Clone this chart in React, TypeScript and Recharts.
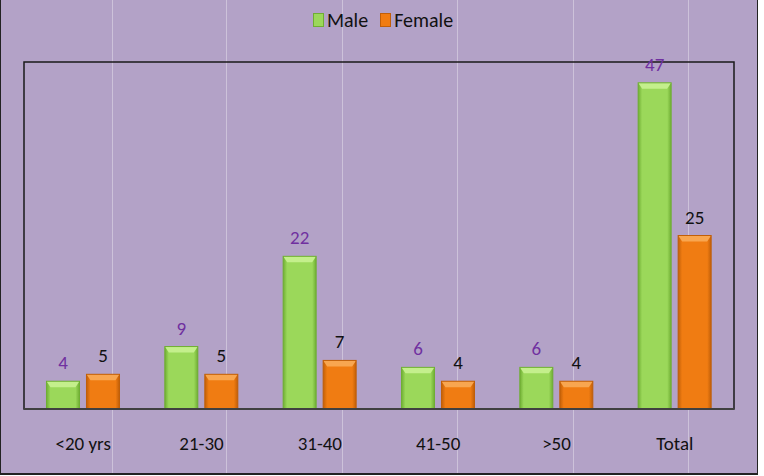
import React from "react"
import { BarChart, Bar, XAxis, YAxis, LabelList, ReferenceArea } from "recharts"

const categories = ["<20 yrs", "21-30", "31-40", "41-50", ">50", "Total"]
const male = [4, 9, 22, 6, 6, 47]
const female = [5, 5, 7, 4, 4, 25]

const data = categories.map((c, i) => ({ group: c, Male: male[i], Female: female[i] }))

const FONT = "Carlito, Calibri, Lato, 'Open Sans', sans-serif"
const BG = "#b3a2c7"

const palette = {
  Male: { main: "#9bd85a", light: "#c4ef8c", dark: "#6fae33", label: "#7030a0" },
  Female: { main: "#f07c12", light: "#f8a650", dark: "#c15f08", label: "#111111" },
}

function makeBevel(key: "Male" | "Female") {
  const c = palette[key]
  return (props: any) => {
    const { x, y, width, height } = props
    if (!height || height <= 0) return null
    const b = Math.min(6, height / 2)
    return (
      <g>
        <line x1={x - 5} x2={x + width + 5} y1={y + height} y2={y + height} stroke="#4a4a4a" strokeWidth={2} opacity={0.7} />
        <rect x={x} y={y} width={width} height={height} fill={`url(#grad${key})`} />
        <polygon
          points={`${x},${y} ${x + width},${y} ${x + width - 4},${y + b} ${x + 4},${y + b}`}
          fill={c.light}
        />
        <rect x={x} y={y} width={width} height={height} fill="none" stroke={c.dark} strokeWidth={1} />
      </g>
    )
  }
}

const LegendBox = () => (
  <div
    style={{
      position: "absolute",
      left: 0,
      top: 8,
      width: 764,
      display: "flex",
      justifyContent: "center",
      gap: 12,
      fontFamily: FONT,
      fontSize: 20,
      color: "#111",
    }}
  >
    {(["Male", "Female"] as const).map((k) => (
      <span key={k} style={{ display: "flex", alignItems: "center", gap: 3 }}>
        <span
          style={{
            display: "inline-block",
            width: 11,
            height: 14,
            background: palette[k].main,
            border: `1px solid ${palette[k].dark}`,
            boxSizing: "border-box",
          }}
        />
        {k}
      </span>
    ))}
  </div>
)

const streaks = [111, 225, 341, 456, 572, 687]

export default function App() {
  return (
    <div
      style={{
        position: "absolute",
        left: 0,
        top: 0,
        width: 764,
        height: 476,
        background: "#ffffff",
      }}
    >
      <div
        style={{
          position: "absolute",
          left: 0,
          top: 0,
          width: 756,
          height: 473,
          background: BG,
          borderLeft: "1px solid #222",
          borderRight: "1px solid #222",
          borderBottom: "2px solid #222",
          overflow: "hidden",
        }}
      >
        {streaks.map((s) => (
          <div
            key={s}
            style={{ position: "absolute", left: s, top: 0, width: 1, height: "100%", background: "rgba(255,255,255,0.35)" }}
          />
        ))}
        <LegendBox />
        <div style={{ position: "absolute", left: -1, top: 0 }}>
          <BarChart
            width={764}
            height={476}
            data={data}
            margin={{ top: 62, right: 30, bottom: 27, left: 24 }}
            barCategoryGap="19%"
            barGap={7}
          >
            <defs>
              {(["Male", "Female"] as const).map((k) => (
                <linearGradient key={k} id={`grad${k}`} x1="0" y1="0" x2="1" y2="0">
                  <stop offset="0" stopColor={palette[k].dark} />
                  <stop offset="0.12" stopColor={palette[k].main} />
                  <stop offset="0.88" stopColor={palette[k].main} />
                  <stop offset="1" stopColor={palette[k].dark} />
                </linearGradient>
              ))}
            </defs>
            <ReferenceArea y1={0} y2={50} fill="none" stroke="#1a1a1a" strokeWidth={1.5} ifOverflow="extendDomain" />
            <XAxis
              dataKey="group"
              axisLine={{ stroke: "#404040", strokeWidth: 2 }}
              tickLine={false}
              height={40}
              tick={{ fill: "#111", fontSize: 19, fontFamily: FONT, dy: 20 }}
              interval={0}
            />
            <YAxis hide domain={[0, 50]} />
            <Bar dataKey="Male" isAnimationActive={false} shape={makeBevel("Male")}>
              <LabelList dataKey="Male" position="top" offset={12} fill={palette.Male.label} fontSize={19} fontFamily={FONT} />
            </Bar>
            <Bar dataKey="Female" isAnimationActive={false} shape={makeBevel("Female")}>
              <LabelList dataKey="Female" position="top" offset={12} fill={palette.Female.label} fontSize={19} fontFamily={FONT} />
            </Bar>
          </BarChart>
        </div>
      </div>
    </div>
  )
}
